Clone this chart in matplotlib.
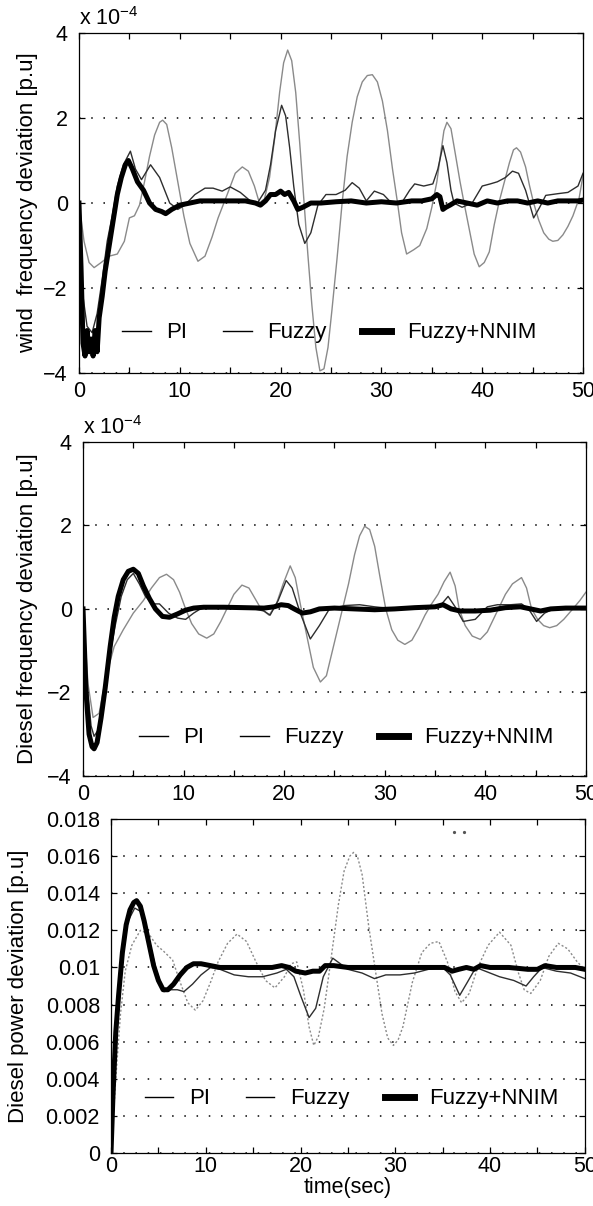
import matplotlib
matplotlib.use("Agg")
import matplotlib.pyplot as plt
from matplotlib.lines import Line2D
from matplotlib.ticker import MultipleLocator, FormatStrFormatter

plt.rcParams['font.family'] = ['Liberation Sans', 'DejaVu Sans']
plt.rcParams['mathtext.default'] = 'regular'

# ---- wind frequency deviation (x 1e-4 p.u) ----
wind_pi_t = [0, 0.5, 1.0, 1.5, 2.2, 3.0, 3.8, 4.5, 5.0, 5.5,
             6.0, 6.5, 7.0, 7.5, 8.0, 8.3, 8.7, 9.2, 9.8, 10.4,
             11.0, 11.8, 12.5, 13.2, 13.8, 14.7, 15.5, 16.2, 16.8, 17.4,
             17.9, 18.4, 18.9, 19.4, 19.9, 20.3, 20.7, 21.1, 21.5, 21.9,
             22.3, 22.7, 23.1, 23.5, 23.9, 24.3, 24.7, 25.1, 25.6, 26.1,
             26.6, 27.1, 27.6, 28.1, 28.6, 29.1, 29.6, 30.1, 30.6, 31.1,
             31.6, 32.0, 32.5, 33.2, 33.8, 34.5, 35.0, 35.5, 35.9, 36.2,
             36.5, 36.9, 37.3, 37.8, 38.2, 38.7, 39.2, 39.7, 40.2, 40.7,
             41.2, 41.7, 42.2, 42.7, 43.1, 43.4, 43.8, 44.3, 44.7, 45.1,
             45.6, 46.1, 46.6, 47.0, 47.5, 48.0, 48.5, 49.0, 49.6, 50]
wind_pi = [0, -0.9, -1.4, -1.52, -1.4, -1.25, -1.2, -0.9, -0.35, -0.3,
           -0.05, 0.5, 1.1, 1.6, 1.9, 1.95, 1.85, 1.3, 0.5, -0.3,
           -0.95, -1.37, -1.25, -0.8, -0.35, 0.2, 0.7, 0.85, 0.75, 0.4,
           0.0, 0.1, 0.6, 1.5, 2.6, 3.3, 3.6, 3.35, 2.6, 1.4,
           0.1, -1.2, -2.4, -3.4, -3.95, -3.9, -3.4, -2.5, -1.3, 0.0,
           1.1, 1.9, 2.5, 2.85, 3.0, 3.02, 2.85, 2.4, 1.7, 0.8,
           0.0, -0.7, -1.2, -1.1, -1.0, -0.6, -0.1, 0.5, 1.2, 1.7,
           1.9, 1.75, 1.2, 0.5, 0.0, -0.6, -1.2, -1.5, -1.4, -1.15,
           -0.5, 0.05, 0.5, 0.95, 1.25, 1.3, 1.2, 0.85, 0.4, 0.0,
           -0.4, -0.7, -0.85, -0.9, -0.88, -0.75, -0.55, -0.3, 0.1, 0.65]

wind_fz_t = [0, 0.4, 0.8, 1.3, 1.8, 2.3, 2.8, 3.3, 3.8, 4.4, 5.1, 5.6, 6.2, 7.1, 8.0, 9.0, 9.8,
             10.5, 11.5, 12.5, 13.3, 14.2, 15.0, 16.0, 17.0, 17.7, 18.5, 19.0, 19.5, 20.1,
             20.5, 20.9, 21.3, 21.8, 22.4, 23.0, 23.7, 24.5, 25.5, 26.4, 27.1, 27.8, 28.5,
             29.3, 30.2, 31.0, 32.0, 32.8, 33.3, 34.2, 35.1, 35.6, 36.1, 36.5, 36.9, 37.2,
             38.0, 39.0, 40.0, 40.8, 41.5, 42.3, 43.0, 43.6, 44.3, 45.1, 45.7, 46.3, 47.5,
             48.5, 49.5, 50]
wind_fz = [0, -2.2, -2.9, -3.05, -2.6, -1.8, -0.9, -0.3, 0.4, 0.9, 1.22, 0.8, 0.55, 0.9, 0.6,
           0.0, -0.15, -0.05, 0.2, 0.35, 0.35, 0.28, 0.38, 0.25, 0.05, 0.0, 0.3, 0.9, 1.7,
           2.3, 2.05, 1.3, 0.4, -0.5, -0.95, -0.7, -0.05, 0.2, 0.2, 0.3, 0.48, 0.35, 0.05,
           0.28, 0.2, 0.0, 0.0, 0.3, 0.45, 0.4, 0.45, 0.8, 1.35, 0.95, 0.3, 0.0,
           -0.1, 0.0, 0.4, 0.45, 0.5, 0.6, 0.75, 0.7, 0.3, -0.35, -0.1, 0.18, 0.22,
           0.25, 0.4, 0.7]

wind_nn_t = [0, 0.2, 0.4, 0.6, 0.8, 1.0, 1.2, 1.4, 1.6, 1.8, 2.0, 2.3, 2.6, 3.0, 3.4, 3.8, 4.2,
             4.6, 4.9, 5.3, 5.8, 6.4, 7.0, 7.6, 8.2, 8.6, 9.2, 10.0, 11.0, 12.0, 13.5, 15.0,
             16.5, 17.5, 18.0, 18.5, 19.0, 19.5, 20.0, 20.4, 20.8, 21.3, 21.7, 22.2, 23.0,
             24.0, 25.5, 27.0, 28.5, 30.0, 31.5, 33.0, 34.0, 35.0, 35.5, 35.8, 36.1, 36.4,
             36.8, 37.5, 38.5, 39.5, 40.5, 41.5, 42.5, 43.5, 44.5, 45.5, 46.5, 47.5, 48.5,
             49.5, 50]
wind_nn = [0, -1.5, -3.3, -3.6, -3.0, -3.5, -3.2, -3.6, -3.0, -3.5, -2.7, -2.2, -1.6, -1.0,
           -0.4, 0.2, 0.6, 0.9, 1.0, 0.8, 0.5, 0.3, 0.0, -0.15, -0.2, -0.25, -0.15, -0.05, 0.0,
           0.05, 0.05, 0.05, 0.05, 0.0, -0.05, 0.05, 0.2, 0.2, 0.28, 0.2, 0.25, 0.05, -0.15,
           -0.1, 0.0, 0.0, 0.03, 0.05, 0.0, 0.03, 0.0, 0.05, 0.05, 0.1, 0.2, 0.15, -0.15, -0.1,
           -0.05, 0.05, 0.0, -0.05, 0.05, 0.0, 0.05, 0.05, 0.0, 0.05, 0.0, 0.05, 0.05, 0.05,
           0.07]

# ---- diesel frequency deviation (x 1e-4 p.u) ----
dfr_pi_t = [0, 0.5, 1.0, 1.6, 2.3, 3.1, 4.0, 5.0, 6.0, 6.8,
            7.6, 8.3, 9.0, 9.6, 10.2, 10.8, 11.5, 12.3, 13.0, 13.7,
            14.3, 15.0, 15.8, 16.5, 17.1, 17.7, 18.5, 19.2, 19.9, 20.6,
            21.1, 21.7, 22.3, 22.9, 23.6, 24.2, 24.8, 25.3, 25.8, 26.4,
            27.0, 27.5, 28.0, 28.5, 29.0, 29.5, 30.1, 30.7, 31.3, 32.0,
            32.7, 33.4, 34.0, 34.6, 35.3, 35.9, 36.5, 37.0, 37.4, 38.0,
            38.7, 39.5, 40.2, 40.8, 41.4, 42.0, 42.7, 43.6, 44.1, 44.6,
            45.2, 45.8, 46.4, 47.1, 47.8, 48.7, 49.4, 50]
dfr_pi = [0, -1.8, -2.6, -2.5, -1.6, -0.9, -0.5, -0.1, 0.2, 0.5,
          0.75, 0.83, 0.7, 0.4, 0.0, -0.35, -0.6, -0.7, -0.6, -0.3,
          0.0, 0.35, 0.57, 0.5, 0.25, 0.0, -0.15, 0.1, 0.6, 1.03,
          0.75, 0.0, -0.7, -1.4, -1.75, -1.6, -1.0, -0.5, 0.0, 0.6,
          1.3, 1.75, 1.98, 1.9, 1.5, 0.8, 0.0, -0.5, -0.75, -0.85,
          -0.75, -0.45, -0.15, 0.1, 0.35, 0.65, 0.88, 0.55, 0.0, -0.4,
          -0.65, -0.73, -0.55, -0.25, 0.05, 0.35, 0.6, 0.75, 0.5, 0.0,
          -0.25, -0.4, -0.45, -0.4, -0.25, 0.0, 0.2, 0.4]

dfr_fz_t = [0, 0.4, 0.8, 1.1, 1.5, 2.0, 2.6, 3.2, 3.8, 4.4, 5.0, 5.6, 6.2, 7.0, 7.6, 8.5, 9.4,
            10.2, 11.0, 11.8, 13, 15, 17, 18.0, 18.6, 19.4, 20.2, 20.8, 21.6, 22.6, 23.5,
            24.5, 26, 27.5, 29, 31, 33, 35, 35.6, 36.3, 37.0, 37.8, 39.0, 40.2, 41.2, 42.5,
            43.6, 44.3, 45.1, 45.9, 46.8, 48, 50]
dfr_fz = [0, -1.8, -2.8, -3.05, -2.9, -2.2, -1.2, -0.4, 0.3, 0.7, 0.85, 0.6, 0.3, 0.12, 0.12,
          -0.1, -0.22, -0.25, -0.1, 0.02, 0.05, 0.05, 0.0, -0.05, -0.15, 0.2, 0.68, 0.5, -0.1,
          -0.72, -0.4, 0.0, 0.08, 0.1, 0.05, 0.0, 0.03, 0.05, 0.1, 0.3, 0.05, -0.3, -0.25,
          0.05, 0.1, 0.1, 0.12, 0.0, -0.3, -0.1, 0.0, 0.02, 0.0]

dfr_nn_t = [0, 0.3, 0.6, 0.9, 1.1, 1.4, 1.8, 2.2, 2.7, 3.1, 3.5, 4.0, 4.5, 5.0, 5.5, 6.0, 6.6,
            7.2, 7.9, 8.6, 9.4, 10.2, 11.0, 12, 14, 16, 18, 19.0, 19.7, 20.4, 21.0, 21.8, 22.6,
            23.5, 25, 27, 29, 31, 33, 35, 35.8, 36.6, 37.5, 39, 40.5, 42, 43.5, 44.5, 45.5,
            46.5, 48, 50]
dfr_nn = [0, -2.0, -3.0, -3.3, -3.35, -3.2, -2.6, -1.9, -0.9, -0.2, 0.3, 0.7, 0.9, 0.95, 0.85,
          0.55, 0.25, 0.0, -0.18, -0.2, -0.12, -0.03, 0.02, 0.04, 0.04, 0.03, 0.02, 0.05, 0.1,
          0.08, 0.0, -0.1, -0.07, 0.0, 0.02, 0.0, -0.02, 0.0, 0.03, 0.05, 0.1, 0.0, -0.05,
          -0.05, -0.03, 0.03, 0.05, 0.0, -0.05, 0.0, 0.02, 0.02]

# ---- diesel power deviation (p.u) ----
dpw_pi_t = [0, 0.5, 1.0, 1.5, 2.2, 3.1, 4.0, 4.8, 5.5, 6.5, 7.3, 8.1, 8.9, 9.7, 10.5, 11.3,
            12.3, 13.3, 14.3, 15.3, 16.3, 17.3, 18.3, 19.0, 19.6, 20.3, 20.9, 21.4, 21.9,
            22.5, 23.2, 24.0, 24.6, 25.2, 25.6, 26.0, 26.5, 27.2, 28.0, 28.6, 29.2, 29.8,
            30.3, 30.8, 31.8, 32.8, 33.7, 34.6, 35.5, 36.3, 37.0, 37.8, 38.7, 39.8, 41.0,
            42.2, 43.0, 43.6, 44.3, 45.3, 46.2, 47.2, 48.2, 49.2, 50]
dpw_pi = [0, 0.004, 0.0075, 0.0098, 0.0112, 0.012, 0.0118, 0.0112, 0.0109, 0.0104, 0.0092,
          0.0081, 0.0077, 0.0082, 0.0092, 0.0103, 0.0113, 0.0118, 0.0114, 0.0103, 0.0093,
          0.0089, 0.0095, 0.0102, 0.0103, 0.0088, 0.0068, 0.0058, 0.0063, 0.0078, 0.0104,
          0.0134, 0.0152, 0.0160, 0.0162, 0.0160, 0.0150, 0.0122, 0.0095, 0.0075, 0.0062,
          0.0058, 0.0061, 0.0068, 0.0092, 0.0108, 0.0113, 0.0114, 0.0103, 0.0087, 0.0081,
          0.0086, 0.0100, 0.0112, 0.0119, 0.0112, 0.0097, 0.0088, 0.0086, 0.0093, 0.0106,
          0.0113, 0.0110, 0.0103, 0.0099]

dpw_fz_t = [0, 0.3, 0.7, 1.2, 1.8, 2.5, 3.2, 4.0, 4.8, 5.6, 6.3, 7.0, 7.7, 8.6, 9.5, 10.5,
            11.5, 13, 14.5, 16, 17.5, 18.5, 19.3, 20.0, 20.9, 21.6, 22.4, 23.4, 24.2, 25.0,
            26.5, 27.8, 29, 30.5, 32, 33.5, 35.0, 35.8, 36.8, 37.6, 38.5, 39.5, 41, 42.5,
            43.8, 44.6, 45.5, 47, 48.5, 50]
dpw_fz = [0, 0.004, 0.008, 0.0108, 0.0125, 0.0132, 0.013, 0.0115, 0.0098, 0.0087, 0.0088,
          0.0088, 0.0087, 0.0091, 0.0096, 0.01, 0.0099, 0.0096, 0.0095, 0.0095, 0.0097,
          0.0099, 0.0095, 0.0085, 0.0073, 0.0078, 0.0095, 0.0105, 0.0102, 0.0099, 0.0097,
          0.0094, 0.0096, 0.0096, 0.0097, 0.0099, 0.01, 0.0096, 0.0085, 0.0092, 0.01, 0.0098,
          0.0095, 0.0093, 0.009, 0.0095, 0.01, 0.0098, 0.0097, 0.0094]

dpw_nn_t = [0, 0.2, 0.5, 0.8, 1.2, 1.6, 2.0, 2.4, 2.7, 3.1, 3.5, 4.0, 4.5, 5.0, 5.5, 6.0, 6.6,
            7.3, 8.0, 8.7, 9.5, 10.5, 11.5, 13, 15, 17, 18, 18.8, 19.5, 20.5, 21.3, 22.0,
            22.6, 23.5, 25, 28, 31, 34, 35.2, 36.0, 36.7, 37.5, 38.3, 39.0, 40, 42, 44, 45.0,
            45.8, 47, 49, 50]
dpw_nn = [0, 0.003, 0.0065, 0.0085, 0.0108, 0.0123, 0.0131, 0.0135, 0.0136, 0.0133, 0.0125,
          0.0113, 0.0101, 0.0093, 0.0088, 0.0088, 0.0091, 0.0096, 0.01, 0.0102, 0.0102,
          0.0101, 0.0100, 0.01, 0.01, 0.01, 0.0101, 0.01, 0.0098, 0.0097, 0.0098, 0.0098,
          0.0101, 0.0101, 0.01, 0.01, 0.01, 0.01, 0.0100, 0.0098, 0.0099, 0.01, 0.0099,
          0.0101, 0.01, 0.01, 0.0099, 0.0099, 0.0101, 0.01, 0.01, 0.0099]

# two stray dots near the top of the power plot
stray_t = [36.2, 37.2]
stray_y = [0.0173, 0.0173]

labels = ['PI', 'Fuzzy', 'Fuzzy+NNIM']
ylabels = ['wind  frequency deviation [p.u]', 'Diesel frequency deviation [p.u]',
           'Diesel power deviation [p.u]']

PI_COL = '#8a8a8a'
FZ_COL = '#2e2e2e'
FS = 15.5

fig = plt.figure(figsize=(5.93, 12.06), dpi=100)
ax1 = fig.add_axes([0.1332, 0.6907, 0.850, 0.2819])
ax2 = fig.add_axes([0.1400, 0.3566, 0.848, 0.2770])
ax3 = fig.add_axes([0.1872, 0.0439, 0.799, 0.2770])


def style(ax, ylim, ystep, ylab, labx):
    ax.set_xlim(0, 50)
    ax.set_ylim(*ylim)
    ax.xaxis.set_major_locator(MultipleLocator(10))
    ax.xaxis.set_minor_locator(MultipleLocator(5))
    ax.yaxis.set_major_locator(MultipleLocator(ystep))
    ax.tick_params(which='both', direction='in', top=True, right=True,
                   length=4, width=0.9, labelsize=FS)
    ax.tick_params(axis='x', pad=6)
    ax.tick_params(axis='y', pad=8)
    for s in ax.spines.values():
        s.set_linewidth(0.9)
    ax.yaxis.grid(True, linestyle=(0, (1, 7)), color='black', linewidth=1.1)
    ax.set_ylabel(ylab, fontsize=16)
    ax.yaxis.set_label_coords(labx, 0.5)


def add_legend(ax, cx, cy):
    handles = [Line2D([], [], color='black', lw=1.0),
               Line2D([], [], color='black', lw=1.0),
               Line2D([], [], color='black', lw=5)]
    ax.legend(handles, labels, loc='center', bbox_to_anchor=(cx, cy), ncol=3,
              frameon=False, fontsize=16, handlelength=1.3, handletextpad=0.7,
              columnspacing=1.6, borderaxespad=0)


# panel 1
ax1.plot(wind_pi_t, wind_pi, color=PI_COL, lw=1.0)
ax1.plot(wind_fz_t, wind_fz, color=FZ_COL, lw=1.0)
ax1.plot(wind_nn_t, wind_nn, color='black', lw=3.6)
style(ax1, (-4, 4), 2, ylabels[0], -0.081)
ax1.text(0.0, 1.008, r'x 10$^{-4}$', transform=ax1.transAxes, fontsize=15.5,
         ha='left', va='bottom')
add_legend(ax1, 0.496, 0.118)

# panel 2
ax2.plot(dfr_pi_t, dfr_pi, color=PI_COL, lw=1.0)
ax2.plot(dfr_fz_t, dfr_fz, color=FZ_COL, lw=1.0)
ax2.plot(dfr_nn_t, dfr_nn, color='black', lw=3.6)
style(ax2, (-4, 4), 2, ylabels[1], -0.089)
ax2.text(0.0, 1.008, r'x 10$^{-4}$', transform=ax2.transAxes, fontsize=15.5,
         ha='left', va='bottom')
add_legend(ax2, 0.523, 0.114)

# panel 3
ax3.plot(dpw_pi_t, dpw_pi, color=PI_COL, lw=1.0, linestyle=(0, (1.5, 1.5)))
ax3.plot(dpw_fz_t, dpw_fz, color=FZ_COL, lw=1.0)
ax3.plot(dpw_nn_t, dpw_nn, color='black', lw=3.6)
ax3.plot(stray_t, stray_y, linestyle='none', marker='o', ms=1.3, color='#555555')
style(ax3, (0, 0.018), 0.002, ylabels[2], -0.173)
ax3.yaxis.set_major_formatter(FormatStrFormatter('%g'))
ax3.tick_params(axis='x', pad=2)
ax3.set_xlabel('time(sec)', fontsize=15.5, labelpad=0)
add_legend(ax3, 0.508, 0.162)

fig.savefig('out.png', dpi=100)
